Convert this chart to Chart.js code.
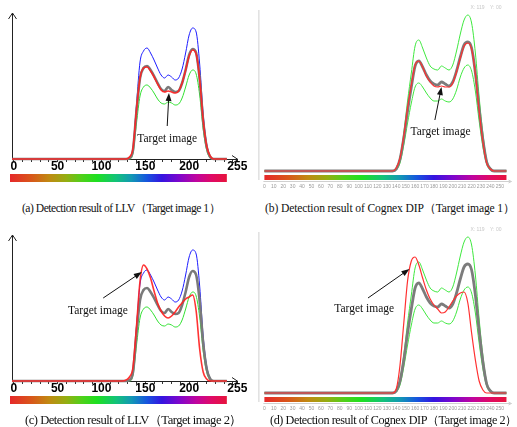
<!DOCTYPE html>
<html>
<head>
<meta charset="utf-8">
<script src="https://cdn.jsdelivr.net/npm/chart.js@4.4.0/dist/chart.umd.min.js"></script>
<style>
  html, body { margin: 0; padding: 0; background: #fff; }
  body { width: 517px; height: 427px; position: relative; overflow: hidden; }
  canvas { position: absolute; }
  .caption {
    position: absolute; white-space: nowrap; line-height: 1; color: #111;
    font-family: "Liberation Serif", "Times New Roman", serif;
    transform: translateY(-50%);
  }
</style>
</head>
<body>
<canvas id="chartA" width="250" height="192" style="left:0;top:0"></canvas>
<canvas id="chartB" width="267" height="192" style="left:250px;top:0"></canvas>
<canvas id="chartC" width="250" height="192" style="left:0;top:222px"></canvas>
<canvas id="chartD" width="267" height="192" style="left:250px;top:222px"></canvas>
<div class="caption" id="capA" style="left:22px;top:209px">(a) Detection result of LLV（Target image 1）</div>
<div class="caption" id="capB" style="left:265px;top:209px">(b) Detection result of Cognex DIP（Target image 1）</div>
<div class="caption" id="capC" style="left:25px;top:420px">(c) Detection result of LLV（Target image 2）</div>
<div class="caption" id="capD" style="left:270px;top:420px">(d) Detection result of Cognex DIP（Target image 2）</div>
<script>
// ---- data (grey level -> histogram height) ----

// LLV panels (a) and (c)
const llvLevels = [-2, 124, 128, 132, 136, 140, 144, 148, 152, 156, 160, 164, 168, 172, 176,
  180, 184, 188, 192, 196, 200, 204, 208, 212, 216, 220, 224, 228, 232, 243];
const llvUpper = [0, 0, 0, 1, 10, 55, 97, 108, 111, 106, 99, 91, 84, 81, 84,
  82, 79, 81, 90, 106, 124, 131, 127, 95, 45, 15, 3, 0, 0, 0];
const llvMean = [0, 0, 0, 1, 9, 48, 81, 91, 93, 89, 83, 76, 70, 68, 72,
  69, 67, 68, 76, 89, 104, 110, 106, 80, 38, 12, 2, 0, 0, 0];
const llvLower = [0, 0, 0, 0, 6, 36, 63, 72, 74, 71, 66, 60, 56, 55, 57,
  56, 54, 55, 61, 72, 84, 89, 85, 64, 30, 9, 1, 0, 0, 0];
const llvTarget1 = [0, 0, 0, 2, 11, 50, 81, 91, 92, 88, 82, 75, 69, 67, 68,
  67, 66, 68, 76, 89, 103, 109, 105, 80, 39, 13, 3, 0, 0, 0];
const llvTarget2 = [0, 0, 1, 4, 14, 55, 100, 116, 112, 103, 90, 78, 70, 65, 63,
  65, 69, 74, 78, 82, 84, 86, 70, 32, 9, 2, 0, 0, 0, 0];
const llvTicks = [0, 10, 20, 30, 40, 50, 60, 70, 80, 90, 100, 110, 120, 130, 140,
  150, 160, 170, 180, 190, 200, 210, 220, 230, 240, 250, 255];
const llvLabels = [0, 50, 100, 150, 200, 255];

// Cognex DIP panels (b) and (d)
const cogLevels = [0, 136, 140, 144, 148, 152, 156, 160, 164, 168, 172, 176, 180, 184, 188,
  192, 196, 200, 204, 208, 212, 216, 220, 224, 228, 232, 236, 240, 244, 248, 257];
const cogUpper = [0, 0, 3, 14, 38, 70, 98, 125, 131, 123, 113, 105, 102, 101, 105,
  103, 101, 106, 120, 137, 151, 156, 148, 118, 74, 37, 11, 3, 0, 0, 0];
const cogMean = [0, 0, 2, 12, 33, 60, 84, 105, 110, 104, 96, 90, 87, 86, 89,
  87, 85, 89, 100, 114, 126, 129, 123, 98, 62, 31, 9, 2, 0, 0, 0];
const cogLower = [0, 0, 1, 8, 26, 48, 68, 84, 88, 84, 78, 73, 70, 70, 72,
  70, 69, 72, 81, 94, 103, 106, 100, 80, 50, 24, 7, 1, 0, 0, 0];
const cogTarget1 = [0, 0, 3, 13, 35, 63, 86, 106, 110, 104, 95, 89, 85, 84, 85,
  84, 84, 88, 99, 113, 125, 128, 122, 97, 60, 29, 8, 2, 0, 0, 0];
const cogTarget2 = [0, 0, 4, 28, 70, 112, 132, 136, 128, 115, 103, 94, 88, 84, 80,
  81, 86, 92, 97, 100, 101, 90, 60, 33, 12, 3, 0, 0, 0, 0, 0];
const cogTicks = [0, 10, 20, 30, 40, 50, 60, 70, 80, 90, 100, 110, 120, 130, 140,
  150, 160, 170, 180, 190, 200, 210, 220, 230, 240, 250];

// hue strip under each histogram
const spectrumStops = [
  [0.00, '#e6282a'], [0.10, '#d8581a'], [0.18, '#c08a12'], [0.26, '#94ae12'],
  [0.33, '#50d01a'], [0.40, '#1ee020'], [0.49, '#12c27a'], [0.56, '#1298b4'],
  [0.63, '#1656de'], [0.70, '#3414e0'], [0.78, '#7e06cc'], [0.86, '#c0049e'],
  [0.93, '#e00a66'], [1.00, '#e6143c']
];

// ---- plugins ----

function drawSpectrum(ctx, x0, x1, y0, y1) {
  const g = ctx.createLinearGradient(x0, 0, x1, 0);
  spectrumStops.forEach(([p, c]) => g.addColorStop(p, c));
  ctx.fillStyle = g;
  ctx.fillRect(x0, y0, x1 - x0, y1 - y0);
}

const llvFrame = {
  id: 'llvFrame',
  beforeDatasetsDraw(chart) {
    const { ctx, chartArea: a, scales } = chart;
    ctx.save();
    ctx.strokeStyle = '#222';
    ctx.lineWidth = 1;
    ctx.beginPath();
    const lx = a.left + 0.5, by = a.bottom + 0.5;
    ctx.moveTo(lx, by); ctx.lineTo(lx, a.top);
    ctx.moveTo(lx - 4, a.top + 6); ctx.lineTo(lx, a.top); ctx.lineTo(lx + 4, a.top + 6);
    ctx.moveTo(a.left, by); ctx.lineTo(a.right - 2, by);
    ctx.moveTo(a.right - 8, by - 4); ctx.lineTo(a.right - 2, by); ctx.lineTo(a.right - 8, by + 4);
    ctx.stroke();
    drawSpectrum(ctx, a.left - 2, scales.x.getPixelForValue(243), a.bottom + 15, a.bottom + 23);
    ctx.restore();
  }
};

const cogFrame = {
  id: 'cogFrame',
  beforeDatasetsDraw(chart) {
    const { ctx, chartArea: a } = chart;
    ctx.save();
    // window edge on the left and a faint axis under the strip
    ctx.strokeStyle = '#d0d0d0';
    ctx.lineWidth = 1;
    ctx.beginPath();
    ctx.moveTo(a.left - 5.5, a.top + 2); ctx.lineTo(a.left - 5.5, a.bottom + 9);
    ctx.moveTo(a.left - 1, a.bottom + 10.5); ctx.lineTo(a.right + 5, a.bottom + 10.5);
    ctx.moveTo(a.right + 2, a.bottom + 9); ctx.lineTo(a.right + 5, a.bottom + 10.5); ctx.lineTo(a.right + 2, a.bottom + 12);
    ctx.stroke();
    drawSpectrum(ctx, a.left, a.right, a.bottom + 4, a.bottom + 9);
    ctx.fillStyle = '#c8c8c8';
    ctx.font = '5px "Liberation Sans", sans-serif';
    ctx.textAlign = 'right';
    ctx.textBaseline = 'middle';
    ctx.fillText('X: 119    Y: 00', a.right - 5, a.top);
    ctx.restore();
  }
};

const callout = {
  id: 'callout',
  afterDatasetsDraw(chart) {
    const opt = chart.options.plugins.callout;
    if (!opt) return;
    const { ctx, scales: { x, y } } = chart;
    const px = p => [x.getPixelForValue(p[0]), y.getPixelForValue(p[1])];
    const [x0, y0] = px(opt.from);
    const [x1, y1] = px(opt.to);
    const ang = Math.atan2(y1 - y0, x1 - x0);
    ctx.save();
    ctx.strokeStyle = '#111';
    ctx.fillStyle = '#111';
    ctx.lineWidth = 1;
    ctx.beginPath();
    ctx.moveTo(x0, y0);
    ctx.lineTo(x1 - 6 * Math.cos(ang), y1 - 6 * Math.sin(ang));
    ctx.stroke();
    ctx.beginPath();
    ctx.moveTo(x1, y1);
    ctx.lineTo(x1 - 8 * Math.cos(ang) + 3 * Math.sin(ang), y1 - 8 * Math.sin(ang) - 3 * Math.cos(ang));
    ctx.lineTo(x1 - 8 * Math.cos(ang) - 3 * Math.sin(ang), y1 - 8 * Math.sin(ang) + 3 * Math.cos(ang));
    ctx.closePath();
    ctx.fill();
    const [tx, ty] = px(opt.textAt);
    ctx.font = '11.5px "Liberation Serif", "Times New Roman", serif';
    ctx.textAlign = 'center';
    ctx.textBaseline = 'middle';
    ctx.fillText(opt.text, tx, ty);
    ctx.restore();
  }
};

// ---- chart builders ----

function series(levels, values, color, width, order) {
  return {
    data: levels.map((x, i) => ({ x, y: values[i] })),
    borderColor: color,
    borderWidth: width,
    order,
    pointRadius: 0,
    fill: false,
    clip: false,
    cubicInterpolationMode: 'monotone'
  };
}

function baseOptions() {
  return {
    responsive: false,
    animation: false,
    events: [],
    plugins: { legend: { display: false }, tooltip: { enabled: false } }
  };
}

function makeLlvChart(id, target, note) {
  const options = baseOptions();
  options.layout = { padding: { left: 12, right: 10, top: 13, bottom: 0 } };
  options.plugins.callout = note;
  options.scales = {
    x: {
      type: 'linear', min: -2, max: 258,
      afterBuildTicks: s => { s.ticks = llvTicks.map(v => ({ value: v })); },
      afterFit: s => { s.height = 33; },
      grid: { display: true, drawOnChartArea: false, drawTicks: true, tickLength: 3, color: '#333' },
      border: { display: false },
      ticks: {
        autoSkip: false, maxRotation: 0, padding: -3, color: '#000',
        font: { family: '"Liberation Sans", Arial, sans-serif', size: 12, weight: 'bold' },
        callback: v => llvLabels.includes(v) ? String(v) : ''
      }
    },
    y: { display: false, min: 0, max: 146 }
  };
  return new Chart(document.getElementById(id), {
    type: 'line',
    data: {
      datasets: [
        series(llvLevels, target, 'rgba(255,34,34,0.92)', 1.6, 0),
        series(llvLevels, llvMean, '#7a7a7a', 2.6, 1),
        series(llvLevels, llvUpper, '#1c1cff', 1, 2),
        series(llvLevels, llvLower, '#30e030', 1, 2)
      ]
    },
    options,
    plugins: [llvFrame, callout]
  });
}

function makeCognexChart(id, target, note) {
  const options = baseOptions();
  options.layout = { padding: { left: 6, right: 7, top: 8, bottom: 0 } };
  options.plugins.callout = note;
  options.scales = {
    x: {
      type: 'linear', min: 0, max: 257,
      afterBuildTicks: s => { s.ticks = cogTicks.map(v => ({ value: v })); },
      afterFit: s => { s.height = 21; },
      grid: { display: false, drawTicks: false },
      border: { display: false },
      ticks: {
        autoSkip: false, maxRotation: 0, padding: 13, color: '#9a9a9a',
        font: { family: '"Liberation Sans", Arial, sans-serif', size: 5 }
      }
    },
    y: { display: false, min: 0, max: 163 }
  };
  return new Chart(document.getElementById(id), {
    type: 'line',
    data: {
      datasets: [
        series(cogLevels, target, '#ff3030', 1.2, 0),
        series(cogLevels, cogMean, '#7c7c7c', 2.8, 1),
        series(cogLevels, cogUpper, '#3ee83e', 1, 2),
        series(cogLevels, cogLower, '#3ee83e', 1, 2)
      ]
    },
    options,
    plugins: [cogFrame, callout]
  });
}

makeLlvChart('chartA', llvTarget1, { text: 'Target image', textAt: [175, 20], from: [175, 33], to: [177, 66] });
makeCognexChart('chartB', cogTarget1, { text: 'Target image', textAt: [187, 39], from: [181, 51], to: [188, 84] });
makeLlvChart('chartC', llvTarget2, { text: 'Target image', textAt: [96, 70], from: [102, 83], to: [146, 109] });
makeCognexChart('chartD', cogTarget2, { text: 'Target image', textAt: [106, 84], from: [110, 95], to: [154, 124] });

// captions: fixed glyph size per row, letter spacing nudged toward the width seen in the figure
[['capA', 11.6, 183], ['capB', 11.6, 250], ['capC', 12.6, 215], ['capD', 12.2, 247]].forEach(([id, size, width]) => {
  const el = document.getElementById(id);
  el.style.fontSize = size + 'px';
  const w = el.getBoundingClientRect().width;
  const spacing = Math.max(-0.5, Math.min(0.5, (width - w) / el.textContent.length));
  el.style.letterSpacing = spacing.toFixed(2) + 'px';
});
</script>
</body>
</html>
